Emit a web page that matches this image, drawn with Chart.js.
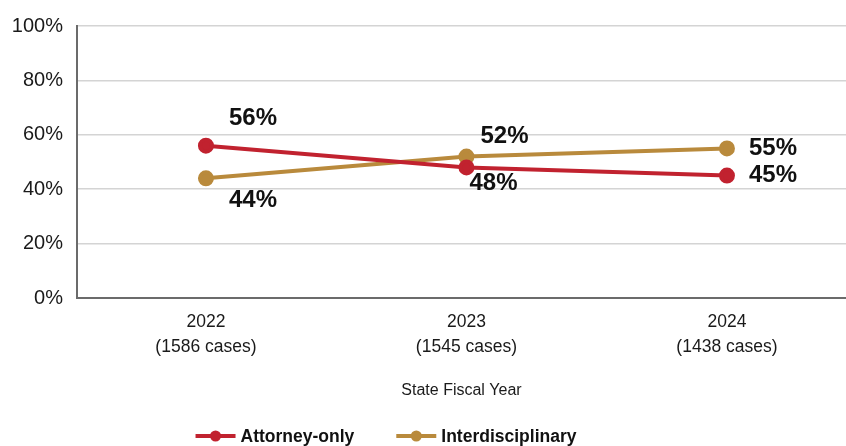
<!DOCTYPE html>
<html>
<head>
<meta charset="utf-8">
<script src="https://cdn.jsdelivr.net/npm/chart.js@4/dist/chart.umd.min.js"></script>
<style>
  html, body { margin: 0; padding: 0; background: #fff; }
  #wrap { width: 846px; height: 446px; }
</style>
</head>
<body>
<div id="wrap"><canvas id="chart"></canvas></div>
<script>
const categories = ["2022", "2023", "2024"];
const caseCounts = [1586, 1545, 1438];
const attorneyOnly = [56, 48, 45];
const interdisciplinary = [44, 52, 55];
const yTicks = [0, 20, 40, 60, 80, 100];

const RED = "#c1222f";
const GOLD = "#b98a3c";

// where each value label sits relative to its point (pixels)
const labelOffsets = [
  [[47, -27], [27, 16], [46, 0]],
  [[47, 22], [38, -20], [46, 0]],
];

const valueLabels = {
  id: "valueLabels",
  afterDatasetsDraw(chart) {
    const ctx = chart.ctx;
    ctx.save();
    ctx.font = "bold 24px 'Liberation Sans', Arial, sans-serif";
    ctx.fillStyle = "#111";
    ctx.textAlign = "center";
    ctx.textBaseline = "middle";
    chart.data.datasets.forEach((ds, di) => {
      chart.getDatasetMeta(di).data.forEach((pt, i) => {
        const off = labelOffsets[di][i];
        ctx.fillText(ds.data[i].y + "%", pt.x + off[0], pt.y + off[1]);
      });
    });
    ctx.restore();
  },
};

const lineLegend = {
  id: "lineLegend",
  afterDraw(chart) {
    const ctx = chart.ctx;
    ctx.save();
    ctx.font = "bold 17.5px 'Liberation Sans', Arial, sans-serif";
    ctx.textBaseline = "middle";
    const y = 436;
    const lineW = 40, gapText = 5, gapItem = 42;
    const items = chart.data.datasets.map(ds => ({
      label: ds.label, color: ds.borderColor, w: lineW + gapText + ctx.measureText(ds.label).width,
    }));
    const total = items.reduce((s, it) => s + it.w, 0) + gapItem * (items.length - 1);
    let x = 386 - total / 2;
    items.forEach(it => {
      ctx.strokeStyle = it.color;
      ctx.lineWidth = 4;
      ctx.beginPath();
      ctx.moveTo(x, y);
      ctx.lineTo(x + lineW, y);
      ctx.stroke();
      ctx.fillStyle = it.color;
      ctx.beginPath();
      ctx.arc(x + lineW / 2, y, 5.5, 0, Math.PI * 2);
      ctx.fill();
      ctx.fillStyle = "#111";
      ctx.fillText(it.label, x + lineW + gapText, y + 1);
      x += it.w + gapItem;
    });
    ctx.restore();
  },
};

const toPoints = arr => arr.map((v, i) => ({ x: i, y: v }));

new Chart(document.getElementById("chart"), {
  type: "line",
  data: {
    datasets: [
      {
        label: "Attorney-only",
        data: toPoints(attorneyOnly),
        borderColor: RED,
        backgroundColor: RED,
        borderWidth: 4,
        pointRadius: 6,
        pointHoverRadius: 6,
      },
      {
        label: "Interdisciplinary",
        data: toPoints(interdisciplinary),
        borderColor: GOLD,
        backgroundColor: GOLD,
        borderWidth: 4,
        pointRadius: 6,
        pointHoverRadius: 6,
      },
    ],
  },
  options: {
    responsive: true,
    maintainAspectRatio: false,
    animation: false,
    layout: { autoPadding: false, padding: { top: 24, right: 0, bottom: 40, left: 0 } },
    plugins: {
      legend: { display: false },
      tooltip: { enabled: false },
    },
    scales: {
      x: {
        type: "linear",
        min: -0.495,
        max: 2.457,
        afterBuildTicks: scale => {
          scale.ticks = categories.map((c, i) => ({ value: i }));
        },
        afterFit: scale => { scale.height = 108; },
        grid: { display: false, drawTicks: false },
        border: { display: true, color: "#6b6b6b", width: 2 },
        ticks: {
          color: "#1a1a1a",
          padding: 12,
          font: { family: "'Liberation Sans', Arial, sans-serif", size: 17.5, lineHeight: 1.4 },
          maxRotation: 0,
          callback: value => [categories[value], "(" + caseCounts[value] + " cases)"],
        },
        title: {
          display: true,
          text: "State Fiscal Year",
          color: "#1a1a1a",
          padding: { top: 9, bottom: 6 },
          font: { family: "'Liberation Sans', Arial, sans-serif", size: 16 },
        },
      },
      y: {
        min: 0,
        max: 100,
        afterBuildTicks: scale => {
          scale.ticks = yTicks.map(v => ({ value: v }));
        },
        afterFit: scale => { scale.width = 77; },
        grid: { color: "#d4d4d4", lineWidth: 1.5, drawTicks: false },
        border: { display: true, color: "#6b6b6b", width: 2 },
        ticks: {
          color: "#1a1a1a",
          padding: 14,
          font: { family: "'Liberation Sans', Arial, sans-serif", size: 20 },
          callback: v => v + "%",
        },
      },
    },
  },
  plugins: [valueLabels, lineLegend],
});
</script>
</body>
</html>
